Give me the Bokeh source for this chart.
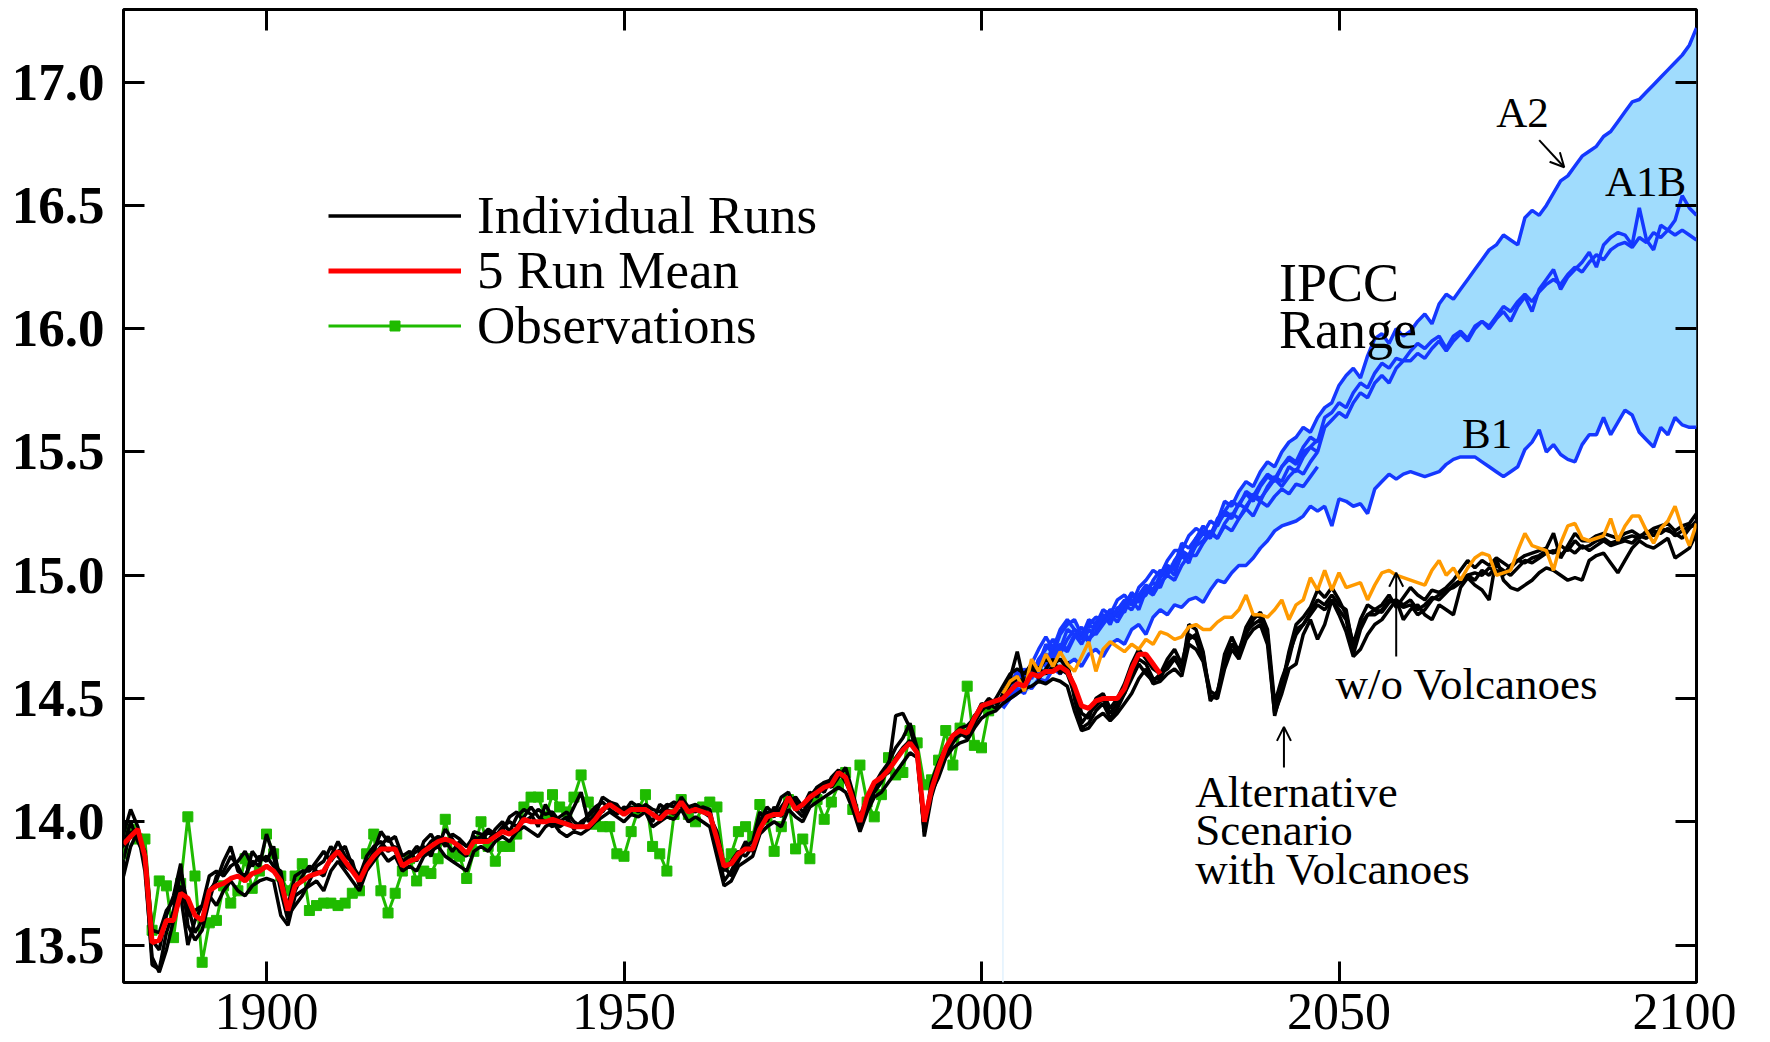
import numpy as np
from bokeh.plotting import figure
from bokeh.models import (Range1d, LinearAxis, FixedTicker, PrintfTickFormatter,
                          Legend, LegendItem, Label, Arrow, OpenHead)
from bokeh.embed import file_html
from bokeh.resources import INLINE

# ---------------- data ----------------
obs_years = list(range(1880, 2002))
observations = [
    13.87, 13.97, 13.93, 13.93, 13.56, 13.76, 13.74, 13.53, 13.75, 14.02,
    13.78, 13.43, 13.59, 13.60, 13.74, 13.67, 13.72, 13.85, 13.73, 13.80,
    13.95, 13.87, 13.78, 13.72, 13.78, 13.83, 13.64, 13.66, 13.67, 13.67,
    13.66, 13.67, 13.71, 13.72, 13.87, 13.95, 13.72, 13.63, 13.71, 13.80,
    13.85, 13.76, 13.80, 13.79, 13.85, 14.01, 13.87, 13.86, 13.77, 13.88,
    14.00, 13.90, 13.84, 13.90, 13.90, 13.95, 14.06, 14.10, 14.10, 14.02,
    14.11, 14.06, 14.04, 14.10, 14.19, 14.08, 13.99, 13.98, 13.98, 13.87,
    13.86, 13.96, 14.05, 14.11, 13.90, 13.87, 13.80, 14.03, 14.09, 14.03,
    14.00, 14.06, 14.08, 14.06, 13.83, 13.87, 13.96, 13.98, 13.94, 14.07,
    14.01, 13.88, 13.98, 14.09, 13.89, 13.93, 13.85, 14.09, 14.01, 14.08,
    14.15, 14.20, 14.05, 14.23, 14.08, 14.02, 14.11, 14.26, 14.19, 14.20,
    14.37, 14.32, 14.15, 14.17, 14.25, 14.37, 14.23, 14.38, 14.55, 14.31,
    14.30, 14.45,
]

mean_years = list(range(1880, 2026))
run_mean = [
    13.91, 13.94, 13.97, 13.86, 13.51, 13.52, 13.60, 13.60, 13.71, 13.69,
    13.62, 13.60, 13.72, 13.74, 13.75, 13.77, 13.78, 13.76, 13.79, 13.80,
    13.82, 13.80, 13.76, 13.64, 13.74, 13.76, 13.78, 13.79, 13.80, 13.85,
    13.88, 13.84, 13.80, 13.76, 13.82, 13.86, 13.89, 13.89, 13.89, 13.82,
    13.84, 13.85, 13.88, 13.90, 13.92, 13.93, 13.92, 13.90, 13.87, 13.92,
    13.92, 13.92, 13.94, 13.96, 13.95, 13.97, 14.01, 14.00, 14.00, 14.00,
    14.01, 14.00, 13.99, 13.98, 13.98, 13.98, 14.01, 14.05, 14.07, 14.05,
    14.03, 14.05, 14.05, 14.05, 14.03, 14.01, 14.04, 14.04, 14.08, 14.04,
    14.05, 14.04, 14.03, 13.93, 13.82, 13.83, 13.87, 13.89, 13.89, 13.97,
    14.02, 14.03, 14.03, 14.10, 14.05, 14.07, 14.10, 14.12, 14.14, 14.15,
    14.20, 14.18, 14.09, 14.00, 14.10, 14.16, 14.18, 14.21, 14.25, 14.29,
    14.32, 14.28, 14.00, 14.13, 14.22, 14.30, 14.35, 14.37, 14.36, 14.42,
    14.47, 14.48, 14.49, 14.50, 14.53, 14.56, 14.55, 14.60, 14.59, 14.61,
    14.61, 14.63, 14.61, 14.55, 14.47, 14.46, 14.49, 14.50, 14.50, 14.50,
    14.54, 14.62, 14.68, 14.68, 14.64, 14.60,
]

run_years = list(range(1880, 2101))
run_a = [
    13.95, 14.05, 13.98, 13.84, 13.42, 13.40, 13.55, 13.64, 13.80, 13.66,
    13.55, 13.60, 13.72, 13.76, 13.84, 13.90, 13.80, 13.78, 13.84, 13.82,
    13.95, 13.86, 13.72, 13.60, 13.72, 13.78, 13.82, 13.80, 13.78, 13.86,
    13.92, 13.86, 13.84, 13.74, 13.82, 13.88, 13.96, 13.92, 13.94, 13.86,
    13.88, 13.84, 13.92, 13.95, 13.90, 13.97, 13.93, 13.88, 13.86, 13.96,
    13.95, 13.92, 13.97, 14.00, 13.96, 14.02, 14.05, 14.03, 13.98, 14.07,
    14.02, 13.98, 14.00, 14.06, 14.12, 14.00, 14.03, 14.10, 14.08, 14.06,
    14.04, 14.08, 14.06, 14.04, 14.00, 14.07, 14.05, 14.03, 14.10, 14.06,
    14.07, 14.05, 14.03, 13.90, 13.76, 13.80, 13.86, 13.92, 13.88, 14.00,
    14.06, 14.03, 14.10, 14.12, 14.05, 14.02, 14.10, 14.14, 14.12, 14.18,
    14.21, 14.16, 14.10, 13.98, 14.08, 14.15, 14.20, 14.24, 14.30, 14.34,
    14.40, 14.30, 13.94, 14.10, 14.20, 14.28, 14.32, 14.36, 14.34, 14.40,
    14.45, 14.48, 14.46, 14.52, 14.58, 14.69, 14.56, 14.63, 14.58, 14.62,
    14.66, 14.60, 14.65, 14.50, 14.38, 14.40, 14.45, 14.48, 14.42, 14.46,
    14.52, 14.60, 14.66, 14.64, 14.58, 14.58, 14.64, 14.67, 14.61, 14.80,
    14.78, 14.69, 14.50, 14.52, 14.68, 14.75, 14.69, 14.79, 14.84, 14.83,
    14.75, 14.46, 14.55, 14.69, 14.80, 14.83, 14.87, 14.94, 14.91, 14.95,
    14.90, 14.84, 14.72, 14.82, 14.88, 14.86, 14.88, 14.92, 14.87, 14.91,
    14.95, 14.92, 14.90, 14.94, 14.93, 14.95, 14.98, 15.02, 15.06, 15.03,
    15.06, 15.04, 15.07, 15.05, 15.03, 15.06, 15.08, 15.09, 15.10, 15.11,
    15.17, 15.07, 15.12, 15.17, 15.14, 15.14, 15.16, 15.17, 15.16, 15.15,
    15.17, 15.18, 15.16, 15.17, 15.19, 15.20, 15.21, 15.18, 15.20, 15.21,
    15.25,
]
run_b = [
    13.78, 13.90, 13.96, 13.80, 13.45, 13.39, 13.48, 13.60, 13.70, 13.50,
    13.60, 13.66, 13.70, 13.66, 13.72, 13.76, 13.72, 13.70, 13.74, 13.76,
    13.77, 13.76, 13.62, 13.58, 13.70, 13.72, 13.74, 13.76, 13.72, 13.80,
    13.84, 13.80, 13.76, 13.72, 13.80, 13.84, 13.88, 13.84, 13.86, 13.80,
    13.82, 13.80, 13.86, 13.88, 13.90, 13.86, 13.84, 13.82, 13.80, 13.88,
    13.90, 13.88, 13.92, 13.94, 13.92, 13.96, 13.98, 13.96, 13.94, 13.98,
    14.00, 13.96, 13.94, 13.96, 13.95, 13.97, 14.00, 14.02, 14.04, 14.02,
    14.00, 14.03, 14.02, 14.04, 13.98, 14.00, 14.02, 14.01, 14.05, 14.00,
    14.02, 14.00, 13.98, 13.86, 13.74, 13.76, 13.82, 13.84, 13.86, 13.95,
    13.98, 14.00, 13.98, 14.05, 14.02, 14.00, 14.06, 14.08, 14.10, 14.12,
    14.14, 14.12, 14.05, 13.96, 14.04, 14.10, 14.12, 14.16, 14.20, 14.24,
    14.28, 14.26, 13.96, 14.12, 14.18, 14.26, 14.30, 14.32, 14.33, 14.38,
    14.42, 14.44, 14.45, 14.48, 14.50, 14.52, 14.54, 14.55, 14.57, 14.56,
    14.58, 14.57, 14.55, 14.45, 14.37, 14.38, 14.42, 14.44, 14.41, 14.44,
    14.48, 14.52, 14.58, 14.62, 14.56, 14.57, 14.60, 14.62, 14.59, 14.72,
    14.70, 14.65, 14.51, 14.50, 14.62, 14.70, 14.66, 14.74, 14.78, 14.80,
    14.72, 14.44, 14.52, 14.62, 14.64, 14.76, 14.82, 14.74, 14.80, 14.90,
    14.84, 14.77, 14.67, 14.70, 14.76, 14.80, 14.82, 14.86, 14.90, 14.82,
    14.86, 14.88, 14.84, 14.82, 14.88, 14.86, 14.84, 14.95, 14.99, 14.96,
    14.94, 14.90, 15.07, 14.98, 14.95, 14.94, 14.96, 14.98, 15.01, 15.03,
    15.02, 15.00, 14.98, 14.99, 14.98, 15.06, 15.08, 15.09, 15.05, 15.01,
    15.06, 15.11, 15.14, 15.12, 15.11, 15.13, 15.15, 15.07, 15.09, 15.11,
    15.17,
]
run_c = [
    13.90, 14.00, 13.92, 13.86, 13.52, 13.48, 13.62, 13.70, 13.83, 13.58,
    13.52, 13.56, 13.68, 13.78, 13.80, 13.86, 13.82, 13.76, 13.88, 13.84,
    13.86, 13.82, 13.80, 13.62, 13.66, 13.70, 13.76, 13.82, 13.84, 13.90,
    13.86, 13.82, 13.80, 13.78, 13.86, 13.90, 13.92, 13.88, 13.90, 13.84,
    13.86, 13.88, 13.90, 13.86, 13.94, 13.92, 13.88, 13.92, 13.90, 13.94,
    13.92, 13.96, 13.94, 13.98, 14.00, 13.98, 14.02, 14.06, 14.02, 14.00,
    13.98, 14.02, 14.04, 14.00, 13.98, 14.03, 14.06, 14.08, 14.05, 14.03,
    14.06, 14.04, 14.07, 14.05, 14.03, 14.02, 14.06, 14.08, 14.06, 14.04,
    14.06, 14.04, 14.02, 13.96, 13.82, 13.78, 13.84, 13.90, 13.92, 14.04,
    14.00, 14.06, 14.02, 14.08, 14.10, 14.06, 14.12, 14.10, 14.16, 14.14,
    14.18, 14.22, 14.12, 14.00, 14.06, 14.12, 14.16, 14.22, 14.43, 14.44,
    14.38, 14.27, 13.98, 14.16, 14.24, 14.30, 14.35, 14.38, 14.39, 14.42,
    14.48, 14.46, 14.50, 14.55, 14.60, 14.62, 14.60, 14.64, 14.62, 14.66,
    14.64, 14.66, 14.62, 14.55, 14.44, 14.42, 14.50, 14.52, 14.46, 14.50,
    14.56, 14.64, 14.70, 14.66, 14.62, 14.60, 14.66, 14.70, 14.64, 14.76,
    14.74, 14.66, 14.53, 14.51, 14.66, 14.72, 14.70, 14.76, 14.82, 14.85,
    14.78, 14.48, 14.58, 14.66, 14.78, 14.80, 14.85, 14.90, 14.88, 14.92,
    14.88, 14.86, 14.70, 14.80, 14.84, 14.86, 14.85, 14.89, 14.90, 14.88,
    14.90, 14.86, 14.88, 14.91, 14.90, 14.93, 14.96, 14.98, 15.00, 15.01,
    15.00, 15.03, 15.02, 15.00, 15.04, 15.06, 15.05, 15.07, 15.08, 15.10,
    15.09, 15.12, 15.10, 15.14, 15.11, 15.12, 15.14, 15.15, 15.13, 15.14,
    15.15, 15.16, 15.15, 15.18, 15.16, 15.19, 15.18, 15.17, 15.15, 15.19,
    15.22,
]
run_d = [
    13.85, 13.96, 13.94, 13.88, 13.56, 13.55, 13.64, 13.68, 13.74, 13.62,
    13.64, 13.66, 13.78, 13.80, 13.78, 13.82, 13.84, 13.88, 13.82, 13.86,
    13.84, 13.90, 13.74, 13.66, 13.78, 13.80, 13.80, 13.84, 13.88, 13.84,
    13.88, 13.90, 13.82, 13.78, 13.84, 13.86, 13.90, 13.94, 13.88, 13.82,
    13.86, 13.90, 13.88, 13.92, 13.94, 13.90, 13.95, 13.93, 13.90, 13.92,
    13.94, 13.97, 13.95, 13.96, 14.02, 14.04, 14.00, 14.02, 14.05, 14.03,
    14.04, 14.00, 14.02, 13.97, 14.00, 14.02, 14.05, 14.04, 14.08, 14.07,
    14.03, 14.06, 14.04, 14.07, 14.05, 14.04, 14.07, 14.06, 14.09, 14.05,
    14.04, 14.06, 14.05, 13.92, 13.80, 13.84, 13.88, 13.86, 13.90, 13.98,
    14.04, 14.02, 14.06, 14.10, 14.08, 14.04, 14.08, 14.14, 14.16, 14.17,
    14.20, 14.18, 14.08, 14.02, 14.10, 14.14, 14.18, 14.20, 14.26, 14.30,
    14.33, 14.28, 13.96, 14.14, 14.22, 14.30, 14.34, 14.35, 14.37, 14.43,
    14.46, 14.50, 14.48, 14.50, 14.56, 14.58, 14.57, 14.60, 14.62, 14.60,
    14.63, 14.62, 14.60, 14.52, 14.40, 14.44, 14.47, 14.50, 14.44, 14.48,
    14.52, 14.58, 14.64, 14.60, 14.57, 14.60, 14.62, 14.66, 14.62, 14.74,
    14.76, 14.68, 14.49, 14.53, 14.64, 14.72, 14.68, 14.77, 14.80, 14.82,
    14.76, 14.43, 14.54, 14.68, 14.76, 14.80, 14.84, 14.88, 14.86, 14.90,
    14.86, 14.82, 14.68, 14.78, 14.84, 14.84, 14.86, 14.90, 14.89, 14.87,
    14.88, 14.84, 14.86, 14.90, 14.92, 14.94, 14.95, 14.97, 15.00, 14.98,
    15.02, 15.00, 15.04, 15.02, 15.00, 15.03, 15.06, 15.05, 15.07, 15.09,
    15.10, 15.08, 15.11, 15.09, 15.12, 15.10, 15.12, 15.14, 15.12, 15.13,
    15.14, 15.13, 15.16, 15.15, 15.18, 15.17, 15.19, 15.16, 15.18, 15.20,
    15.20,
]

scen_years = list(range(2003, 2101))
no_volcanoes = [
    14.52, 14.57, 14.59, 14.53, 14.66, 14.61, 14.68,
    14.63, 14.69, 14.64, 14.61, 14.67, 14.73, 14.61, 14.70, 14.73, 14.71,
    14.69, 14.72, 14.70, 14.74, 14.72, 14.77, 14.76, 14.74, 14.75, 14.79,
    14.80, 14.78, 14.78, 14.81, 14.83, 14.83, 14.86, 14.92, 14.84, 14.84,
    14.83, 14.86, 14.90, 14.82, 14.88, 14.90, 14.99, 14.94, 15.02, 14.94,
    15.01, 14.95, 14.96, 14.97, 14.90, 14.96, 15.01, 15.02, 15.00, 14.99,
    14.98, 14.97, 14.96, 15.02, 15.06, 15.00, 15.03, 14.98, 15.03, 15.07,
    15.09, 15.08, 15.00, 15.01, 15.02, 15.10, 15.17, 15.12, 15.11, 15.10,
    15.02, 15.13, 15.20, 15.21, 15.15, 15.14, 15.15, 15.16, 15.23, 15.14,
    15.20, 15.24, 15.24, 15.18, 15.13, 15.19, 15.22, 15.28, 15.19, 15.12,
    15.21,
]
ipcc_a2 = [
    14.50, 14.55, 14.60, 14.58, 14.62, 14.64, 14.72,
    14.68, 14.76, 14.80, 14.82, 14.76, 14.80, 14.83, 14.82, 14.86, 14.84,
    14.88, 14.93, 14.90, 14.92, 14.98, 15.02, 15.00, 15.06, 15.10, 15.08,
    15.15, 15.18, 15.16, 15.22, 15.30, 15.28, 15.34, 15.38, 15.36, 15.42,
    15.46, 15.44, 15.50, 15.54, 15.56, 15.60, 15.58, 15.64, 15.68, 15.70,
    15.77, 15.81, 15.84, 15.80, 15.89, 15.96, 15.98, 15.94, 16.00, 15.97,
    15.99, 16.03, 16.06, 16.02, 16.10, 16.14, 16.12, 16.16, 16.20, 16.24,
    16.28, 16.32, 16.34, 16.38, 16.36, 16.34, 16.45, 16.48, 16.46, 16.50,
    16.55, 16.60, 16.62, 16.66, 16.70, 16.72, 16.74, 16.78, 16.80, 16.84,
    16.88, 16.92, 16.93, 16.96, 16.99, 17.02, 17.05, 17.08, 17.11, 17.15,
    17.22,
]
ipcc_a1b_1 = [
    14.49, 14.52, 14.58, 14.62, 14.58, 14.66, 14.70,
    14.74, 14.70, 14.78, 14.76, 14.74, 14.80, 14.78, 14.84, 14.82, 14.86,
    14.90, 14.88, 14.92, 14.96, 14.94, 15.00, 15.04, 15.02, 15.08, 15.05,
    15.13, 15.17, 15.15, 15.21, 15.25, 15.23, 15.29, 15.33, 15.30, 15.36,
    15.40, 15.38, 15.44, 15.48, 15.46, 15.52, 15.56, 15.54, 15.64, 15.66,
    15.70, 15.68, 15.74, 15.78, 15.76, 15.82, 15.86, 15.84, 15.88, 15.87,
    15.91, 15.94, 15.92, 15.95, 15.97, 15.92, 15.97, 15.99, 15.96, 16.01,
    16.03, 16.00, 16.04, 16.07, 16.03, 16.09, 16.13, 16.07, 16.16, 16.20,
    16.24, 16.16, 16.21, 16.24, 16.27, 16.31, 16.25, 16.34, 16.37, 16.39,
    16.38, 16.34, 16.49, 16.36, 16.32, 16.42, 16.40, 16.44, 16.54, 16.49,
    16.46,
]
ipcc_a1b_2 = [
    14.47, 14.50, 14.54, 14.52, 14.60, 14.62, 14.60,
    14.68, 14.72, 14.70, 14.76, 14.72, 14.78, 14.76, 14.80, 14.84, 14.81,
    14.86, 14.90, 14.86, 14.94, 14.92, 14.97, 15.00, 14.98, 15.04, 15.08,
    15.08, 15.13, 15.17, 15.15, 15.21, 15.25, 15.23, 15.28, 15.32, 15.30,
    15.36, 15.40, 15.38, 15.44, 15.42, 15.48, 15.52, 15.50, 15.60, 15.63,
    15.66, 15.64, 15.70, 15.74, 15.72, 15.78, 15.81, 15.78, 15.84, 15.87,
    15.87, 15.90, 15.88, 15.92, 15.95, 15.91, 15.95, 15.98, 15.95, 16.00,
    16.03, 16.01, 16.05, 16.09, 16.07, 16.11, 16.14, 16.11, 16.15, 16.18,
    16.20, 16.18, 16.22, 16.25, 16.23, 16.27, 16.30, 16.28, 16.32, 16.34,
    16.35, 16.33, 16.37, 16.35, 16.39, 16.37, 16.40, 16.38, 16.40, 16.38,
    16.36,
]
ipcc_b1 = [
    14.46, 14.50, 14.52, 14.56, 14.54, 14.58, 14.57,
    14.62, 14.60, 14.64, 14.66, 14.63, 14.68, 14.70, 14.67, 14.72, 14.74,
    14.72, 14.78, 14.80, 14.76, 14.83, 14.86, 14.84, 14.88, 14.87, 14.90,
    14.91, 14.89, 14.94, 14.98, 14.97, 15.01, 15.04, 15.04, 15.07, 15.11,
    15.14, 15.18, 15.20, 15.21, 15.22, 15.24, 15.28, 15.26, 15.28, 15.20,
    15.31, 15.30, 15.28, 15.29, 15.25, 15.35, 15.38, 15.41, 15.39, 15.41,
    15.42, 15.41, 15.40, 15.41, 15.42, 15.45, 15.47, 15.48, 15.48, 15.48,
    15.46, 15.44, 15.42, 15.40, 15.42, 15.44, 15.51, 15.54, 15.59, 15.50,
    15.53, 15.49, 15.47, 15.46, 15.53, 15.57, 15.57, 15.64, 15.57, 15.62,
    15.67, 15.65, 15.58, 15.55, 15.52, 15.60, 15.57, 15.64, 15.61, 15.60,
    15.60,
]
early_years = list(range(2003, 2048))
ipcc_run_4 = [
    14.48, 14.56, 14.61, 14.55, 14.64, 14.70, 14.75, 14.70, 14.78, 14.82,
    14.78, 14.75, 14.82, 14.80, 14.86, 14.84, 14.90, 14.92, 14.88, 14.95,
    14.98, 15.02, 15.00, 15.06, 15.10, 15.10, 15.16, 15.19, 15.17, 15.22,
    15.20, 15.26, 15.30, 15.28, 15.34, 15.32, 15.37, 15.41, 15.39, 15.44,
    15.47, 15.45, 15.50, 15.52, 15.55,
]
ipcc_run_5 = [
    14.50, 14.53, 14.57, 14.62, 14.59, 14.66, 14.63, 14.72, 14.68, 14.74,
    14.78, 14.76, 14.73, 14.81, 14.84, 14.80, 14.87, 14.85, 14.92, 14.89,
    14.94, 14.97, 14.95, 15.02, 15.04, 15.13, 15.11, 15.15, 15.20, 15.16,
    15.23, 15.26, 15.24, 15.29, 15.27, 15.33, 15.31, 15.35, 15.39, 15.36,
    15.40, 15.43, 15.41, 15.46, 15.50,
]
ipcc_run_6 = [
    14.47, 14.51, 14.55, 14.59, 14.63, 14.60, 14.68, 14.66, 14.71, 14.69,
    14.75, 14.79, 14.74, 14.77, 14.82, 14.86, 14.83, 14.88, 14.86, 14.91,
    14.95, 14.93, 14.99, 15.03, 15.00, 15.09, 15.07, 15.12, 15.14, 15.18,
    15.15, 15.20, 15.18, 15.23, 15.27, 15.24, 15.30, 15.28, 15.32, 15.35,
    15.33, 15.37, 15.36, 15.40, 15.44,
]

y_ticks = [13.5, 14.0, 14.5, 15.0, 15.5, 16.0, 16.5, 17.0]
x_ticks = [1900, 1950, 2000, 2050, 2100]
top_ticks = [1900, 1950, 2000, 2050]

# ---------------- styles ----------------
SERIF = "Liberation Serif"
BLUE = "#1538ff"
FILL = "#a0dcfd"
GREEN = "#1fbb00"
RED = "#ff0000"
ORANGE = "#ff9a00"

y0, y1 = 13.348, 17.295
p = figure(frame_width=1573, frame_height=973,
           x_range=Range1d(1880, 2100), y_range=Range1d(y0, y1),
           output_backend="svg", toolbar_location=None,
           min_border_left=123, min_border_right=40,
           min_border_top=9, min_border_bottom=60,
           background_fill_color="white", border_fill_color="white")
p.xgrid.grid_line_color = None
p.ygrid.grid_line_color = None
p.outline_line_color = "black"
p.outline_line_width = 3
p.outline_line_alpha = 1.0


def style_axis(ax, ticks, labels=True, font_size="50px", bold=False):
    ax.ticker = FixedTicker(ticks=ticks)
    ax.axis_line_color = None
    ax.major_tick_in = 21
    ax.major_tick_out = 0
    ax.major_tick_line_width = 3
    ax.major_tick_line_color = "black"
    ax.minor_tick_line_color = None
    ax.major_label_text_font = SERIF
    if labels:
        ax.major_label_text_color = "black"
        ax.major_label_text_font_size = font_size
        if bold:
            ax.major_label_text_font_style = "bold"
    else:
        ax.major_label_text_color = None
        ax.major_label_text_font_size = "1px"
        ax.major_label_standoff = 0


xa = p.xaxis[0]
style_axis(xa, x_ticks, font_size="52px")
xa.major_label_standoff = 11
ya = p.yaxis[0]
style_axis(ya, y_ticks, font_size="53px", bold=True)
ya.formatter = PrintfTickFormatter(format="%.1f")
ya.major_label_standoff = 19

top_ax = LinearAxis()
style_axis(top_ax, top_ticks, labels=False)
p.add_layout(top_ax, "above")
right_ax = LinearAxis()
style_axis(right_ax, y_ticks, labels=False)
p.add_layout(right_ax, "right")

# ---------------- IPCC range ----------------
blue_stack = np.array([ipcc_a2, ipcc_a1b_1, ipcc_a1b_2, ipcc_b1])
upper = blue_stack.max(axis=0)
lower = blue_stack.min(axis=0)
p.varea(x=scen_years, y1=lower, y2=upper, fill_color=FILL, fill_alpha=1.0)
p.segment(x0=[scen_years[0]], y0=[y0], x1=[scen_years[0]], y1=[lower[0]],
          line_color="#e2f2fe", line_width=1.5)

for ser in (ipcc_run_4, ipcc_run_5, ipcc_run_6):
    p.line(early_years, ser, line_color=BLUE, line_width=3.5)
for ser in (ipcc_a2, ipcc_a1b_1, ipcc_a1b_2, ipcc_b1):
    p.line(scen_years, ser, line_color=BLUE, line_width=3.5)

# ---------------- observations ----------------
obs_line = p.line(obs_years, observations, line_color=GREEN, line_width=3)
obs_pts = p.scatter(obs_years, observations, marker="square", size=10,
                    fill_color=GREEN, line_color=GREEN)

# ---------------- model runs ----------------
black_r = None
for ser in (run_a, run_b, run_c, run_d):
    r = p.line(run_years, ser, line_color="black", line_width=3.5)
    if black_r is None:
        black_r = r

p.line(scen_years, no_volcanoes, line_color=ORANGE, line_width=3.5)
red_r = p.line(mean_years, run_mean, line_color=RED, line_width=5)

# ---------------- legend (one row per Legend for exact spacing) ----------------
for label, rends, loc in [("Individual Runs", [black_r], (205, 737)),
                          ("5 Run Mean", [red_r], (205, 682)),
                          ("Observations", [obs_line, obs_pts], (205, 627))]:
    lg = Legend(items=[LegendItem(label=label, renderers=rends)], location=loc)
    lg.label_text_font = SERIF
    lg.label_text_font_size = "53px"
    lg.label_text_color = "black"
    lg.label_height = 25
    lg.glyph_height = 25
    lg.glyph_width = 133
    lg.label_standoff = 16
    lg.spacing = 0
    lg.padding = 0
    lg.margin = 0
    lg.border_line_color = None
    lg.background_fill_alpha = 0
    p.add_layout(lg)

# ---------------- annotations ----------------
def add_text(x, y, txt, size="43px"):
    p.add_layout(Label(x=x, y=y, text=txt, text_font=SERIF, text_font_size=size,
                       text_color="black", text_baseline="alphabetic",
                       text_align="left"))


add_text(2041.6, 16.187, "IPCC", "54px")
add_text(2041.6, 15.995, "Range", "54px")
add_text(2072.0, 16.877, "A2")
add_text(2087.2, 16.597, "A1B")
add_text(2067.2, 15.577, "B1")
add_text(2049.5, 14.56, "w/o Volcanoes", "45px")
add_text(2029.9, 14.12, "Alternative", "45px")
add_text(2029.9, 13.965, "Scenario", "45px")
add_text(2029.9, 13.81, "with Volcanoes", "45px")

for xs, ys, xe, ye in [(2078.0, 16.765, 2081.5, 16.655),
                       (2042.3, 14.22, 2042.3, 14.385),
                       (2058.0, 14.67, 2058.0, 15.01)]:
    p.add_layout(Arrow(end=OpenHead(size=14, line_width=2, line_color="black"),
                       x_start=xs, y_start=ys, x_end=xe, y_end=ye,
                       line_width=2, line_color="black"))

open("out.html", "w").write(file_html(p, INLINE))
